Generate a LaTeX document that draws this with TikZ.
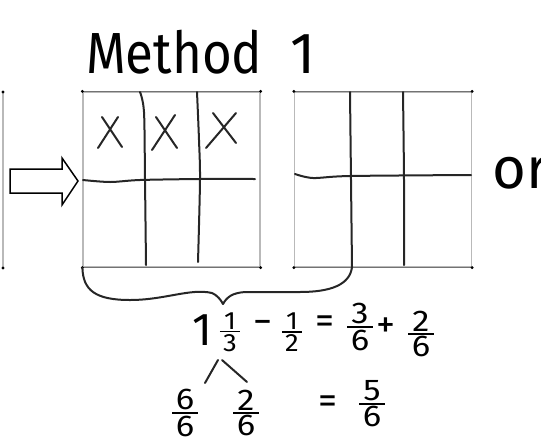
\documentclass[tikz,border=0pt]{standalone}
\usepackage{amsmath}
\usepackage{fontspec}
\setmainfont{Fira Sans}
\usepackage{tikz}
\usetikzlibrary{positioning, calc}

% stacked fraction in the text font
\newcommand{\fr}[2]{\vbox{\offinterlineskip\halign{\hfil\kern3pt##\kern3pt\hfil\cr#1\cr\noalign{\kern2pt\hrule height1.4pt\kern2pt}#2\cr}}}

\begin{document}
\begin{tikzpicture}[x=1pt, y=-1pt,
    hand/.style={line width=2pt, black!85, line cap=round, line join=round},
    edge/.style={line width=1.2pt, gray!55},
    rim/.style={line width=1pt, black!55},
    grid/.style={draw=gray!55, line width=1.2pt, minimum width=177pt, minimum height=175pt, inner sep=0pt},
    big/.style={inner sep=0pt, font=\fontsize{58}{60}\selectfont},
    eq/.style={inner sep=0pt, xscale=1.15, font=\fontsize{30}{32}\selectfont},
    op/.style={inner sep=0pt, font=\fontsize{38}{40}\selectfont},
    small/.style={inner sep=0pt, xscale=1.1, font=\fontsize{25}{27}\selectfont}]
  \useasboundingbox (0,0) rectangle (541,440);

  % title
  \node[big, anchor=base west, xscale=0.88] (title) at (86,73) {Method};
  \node[big, anchor=base] (one) at (303,73) {1};

  % left box (cut off)
  \coordinate (lt) at (3,92);
  \coordinate (lb) at (3,268);
  \draw[edge] (lt) -- (lb);
  \fill (lt) circle (1.6pt);
  \fill (lb) circle (1.6pt);

  % the two wholes
  \node[grid] (box1) at (171.5,179.5) {};
  \node[grid] (box2) at (383,179.5) {};
  \foreach \b in {box1, box2} {
    \draw[rim] (\b.north west) -- (\b.north east);
    \draw[rim] (\b.south west) -- (\b.south east);
    \foreach \c in {north west, north east, south west, south east}
      \fill (\b.\c) circle (1.6pt);
  }

  % cuts in box1
  \draw[hand] plot[smooth] coordinates {(140,92) (144,112) (145,180) (146,265)};
  \draw[hand] plot[smooth] coordinates {(197,92) (199,140) (200,180) (198,262)};
  \draw[hand] plot[smooth] coordinates {(83,180) (110,182) (140,180) (200,179) (255,179)};
  % cuts in box2
  \coordinate (cutb) at (352,267);
  \draw[hand] plot[smooth] coordinates {(350,92) (351,180) (cutb)};
  \draw[hand] plot[smooth] coordinates {(403,92) (404,180) (404,265)};
  \draw[hand] plot[smooth] coordinates {(295,174) (313,178) (350,176) (471,175)};

  % crossed out parts
  \draw[hand] (102,117) -- (122,147) (118,117) -- (98,148);
  \draw[hand] (156,117) -- (177,148) (175,115) -- (152,150);
  \draw[hand] (213,113) -- (236,143) (236,113) -- (206,148);

  % arrow
  \draw[line width=1.5pt] (10,169) -- (62,169) -- (62,158) -- (78,181) -- (62,205) -- (62,193) -- (10,193) -- cycle;

  \node[big, anchor=base west] (or) at (492,188) {or};

  % brace
  \coordinate (tip) at (223,304);
  \draw[hand] (box1.south west) .. controls (83,290) and (95,300) .. (130,300)
    .. controls (165,300) and (190,288) .. (212,293)
    .. controls (217,295) and (221,300) .. (tip);
  \draw[hand] (tip) .. controls (227,297) and (232,293) .. (245,292) -- (300,292)
    .. controls (330,292) and (350,285) .. (cutb);

  % sum
  \node[inner sep=0pt, font=\fontsize{46}{48}\selectfont, anchor=base] (whole) at (202,345) {1};
  \node[small] (f13) at (230,332) {\fr{1}{3}};
  \node[op] (minus) at (263,327) {−};
  \node[small] (f12) at (292,332) {\fr{1}{2}};
  \node[op] (eqa) at (325,325) {=};
  \node[eq] (f36) at (360,327) {\fr{3}{6}};
  \node[op] (plus) at (386,328) {+};
  \node[eq] (f26) at (421,334) {\fr{2}{6}};

  % split of the mixed number
  \coordinate (la) at (218,360);
  \coordinate (lz) at (205,383);
  \coordinate (ra) at (222,360);
  \coordinate (rz) at (247,382);
  \draw[hand] (la) -- (lz);
  \draw[hand] (ra) -- (rz);

  \node[eq] (f66) at (185,413) {\fr{6}{6}};
  \node[eq] (f26b) at (246,413) {\fr{2}{6}};
  \node[op] (eqb) at (328,405) {=};
  \node[eq] (f56) at (372,404) {\fr{5}{6}};
\end{tikzpicture}
\end{document}
